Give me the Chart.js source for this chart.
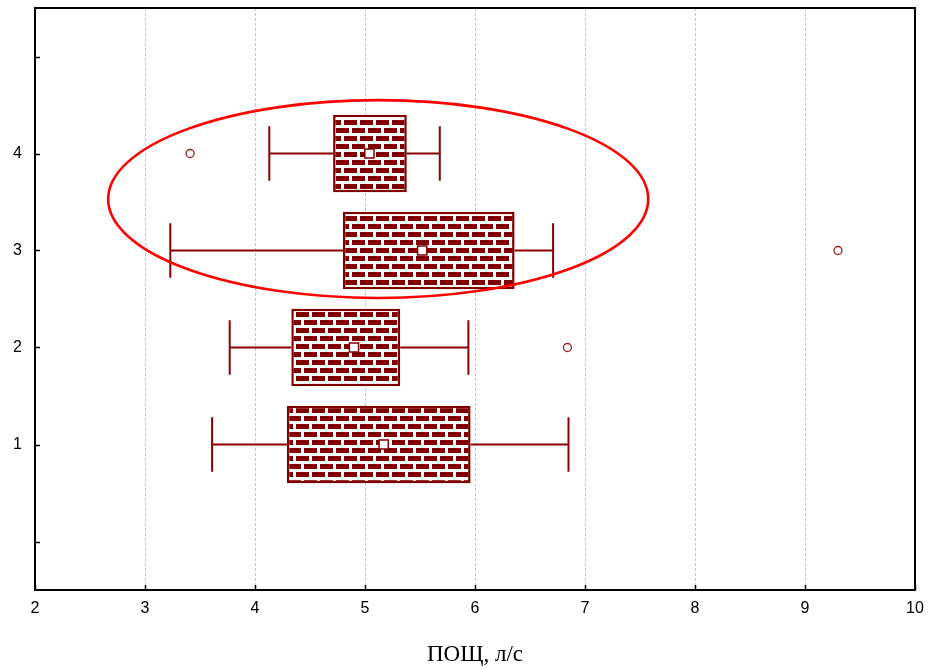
<!doctype html>
<html lang="ru">
  <head>
    <meta charset="utf-8">
    <title>ПОЩ, л/с</title>
    <style>
      * {
        margin: 0;
        padding: 0;
      }
      body {
        background: white;
      }
      .chartBox {
        width: 935px;
        height: 669px;
      }
    </style>
  </head>
  <body>
    <div class="chartBox">
      <canvas id="myChart" width="935" height="669"></canvas>
    </div>
    <script src="https://cdn.jsdelivr.net/npm/chart.js/dist/chart.umd.min.js"></script>
    <script>
    // box plot values per group
    const groups = [1, 2, 3, 4];
    const whiskerLow = [3.61, 3.77, 3.23, 4.13];
    const q1 = [4.29, 4.33, 4.80, 4.71];
    const median = [5.17, 4.90, 5.52, 5.04];
    const q3 = [5.96, 5.32, 6.36, 5.38];
    const whiskerHigh = [6.85, 5.94, 6.71, 5.68];
    const outlierX = [6.84, 9.30, 3.41];
    const outlierGroup = [2, 3, 4];

    // axis ticks
    const xTicks = [2, 3, 4, 5, 6, 7, 8, 9, 10];
    const yTicks = [0, 1, 2, 3, 4, 5];
    const yLabels = ['', '1', '2', '3', '4', ''];

    // highlighted region (centre and radii in axis units)
    const ringCenter = [5.12, 3.53];
    const ringRadius = [2.455, 1.02];

    const capHalf = 0.28;
    const darkRed = '#800000';

    // brick texture for the boxes
    function makeBricks() {
      const c = document.createElement('canvas');
      c.width = 16;
      c.height = 16;
      const g = c.getContext('2d');
      g.fillStyle = '#ffffff';
      g.fillRect(0, 0, 16, 16);
      g.fillStyle = darkRed;
      g.fillRect(0, 0, 13, 5);
      g.fillRect(-8, 8, 13, 5);
      g.fillRect(8, 8, 13, 5);
      return g.createPattern(c, 'repeat');
    }

    // whiskers behind the boxes, frame and inward ticks on top
    const boxExtras = {
      id: 'boxExtras',
      beforeDatasetsDraw(chart) {
        const { ctx, scales: { x, y } } = chart;
        ctx.save();
        ctx.strokeStyle = '#8b0000';
        ctx.lineWidth = 2;
        for (let i = 0; i < groups.length; i++) {
          const yc = y.getPixelForValue(groups[i]);
          const yt = y.getPixelForValue(groups[i] + capHalf);
          const yb = y.getPixelForValue(groups[i] - capHalf);
          const xl = x.getPixelForValue(whiskerLow[i]);
          const xh = x.getPixelForValue(whiskerHigh[i]);
          ctx.beginPath();
          ctx.moveTo(xl, yc);
          ctx.lineTo(x.getPixelForValue(q1[i]), yc);
          ctx.moveTo(x.getPixelForValue(q3[i]), yc);
          ctx.lineTo(xh, yc);
          ctx.moveTo(xl, yt);
          ctx.lineTo(xl, yb);
          ctx.moveTo(xh, yt);
          ctx.lineTo(xh, yb);
          ctx.stroke();
        }
        ctx.restore();
      },
      afterDatasetsDraw(chart) {
        const { ctx, scales: { x, y } } = chart;
        const cx = x.getPixelForValue(ringCenter[0]);
        const cy = y.getPixelForValue(ringCenter[1]);
        const rx = x.getPixelForValue(ringCenter[0] + ringRadius[0]) - cx;
        const ry = cy - y.getPixelForValue(ringCenter[1] + ringRadius[1]);
        ctx.save();
        ctx.strokeStyle = '#ff0000';
        ctx.lineWidth = 2.6;
        ctx.beginPath();
        ctx.ellipse(cx, cy, rx, ry, 0, 0, 2 * Math.PI);
        ctx.stroke();
        ctx.restore();
      },
      afterDraw(chart) {
        const { ctx, chartArea: { top, bottom, left, right }, scales: { x, y } } = chart;
        ctx.save();
        ctx.strokeStyle = '#000000';
        ctx.lineWidth = 1.5;
        ctx.beginPath();
        for (const v of xTicks) {
          const px = Math.round(x.getPixelForValue(v)) + 0.5;
          ctx.moveTo(px, bottom);
          ctx.lineTo(px, bottom - 5);
        }
        for (const v of yTicks) {
          const py = Math.round(y.getPixelForValue(v)) + 0.5;
          ctx.moveTo(left, py);
          ctx.lineTo(left + 5, py);
        }
        ctx.stroke();
        ctx.lineWidth = 2;
        ctx.strokeRect(left, top, right - left, bottom - top);
        ctx.restore();
      }
    };

    const data = {
      datasets: [{
        type: 'scatter',
        label: 'median',
        data: groups.map((g, i) => ({ x: median[i], y: g })),
        pointStyle: 'rect',
        pointRadius: 6.5,
        backgroundColor: '#ffffff',
        borderColor: darkRed,
        borderWidth: 1.5,
        order: 0
      }, {
        type: 'scatter',
        label: 'outliers',
        data: outlierGroup.map((g, i) => ({ x: outlierX[i], y: g })),
        pointStyle: 'circle',
        pointRadius: 4,
        backgroundColor: '#ffffff',
        borderColor: '#9b1f1f',
        borderWidth: 1.3,
        order: 0
      }, {
        type: 'bar',
        label: 'box',
        data: groups.map((g, i) => ({ x: [q1[i], q3[i]], y: g })),
        backgroundColor: makeBricks(),
        borderColor: darkRed,
        borderWidth: 2.5,
        borderSkipped: false,
        categoryPercentage: 1,
        barPercentage: 0.8,
        order: 1
      }]
    };

    const config = {
      type: 'bar',
      data,
      options: {
        indexAxis: 'y',
        responsive: false,
        animation: false,
        layout: {
          padding: { top: 5, right: 20, left: 0, bottom: 0 }
        },
        scales: {
          x: {
            type: 'linear',
            min: 2,
            max: 10,
            offset: false,
            afterBuildTicks: s => { s.ticks = xTicks.map(v => ({ value: v })); },
            afterFit: s => { s.height = 79; s.paddingLeft = 0; s.paddingRight = 0; },
            grid: {
              drawTicks: false,
              color: ctx => (ctx.tick && (ctx.tick.value === 2 || ctx.tick.value === 10)) ? 'rgba(0,0,0,0)' : '#c4c4c4',
              lineWidth: 1
            },
            border: { display: false, dash: [3, 2] },
            ticks: {
              padding: 9,
              color: '#000000',
              font: { family: 'Liberation Sans', size: 16 }
            },
            title: {
              display: true,
              text: 'ПОЩ, л/с',
              color: '#000000',
              padding: { top: 0, bottom: 0 },
              font: { family: 'Liberation Serif', size: 23 }
            }
          },
          y: {
            type: 'linear',
            min: -0.5,
            max: 5.5,
            offset: false,
            afterBuildTicks: s => { s.ticks = yTicks.map(v => ({ value: v })); },
            afterFit: s => { s.width = 35; s.paddingTop = 0; s.paddingBottom = 0; },
            grid: { display: false, drawTicks: false },
            border: { display: false },
            ticks: {
              padding: 13,
              color: '#000000',
              font: { family: 'Liberation Sans', size: 16 },
              callback: (v, i) => yLabels[yTicks.indexOf(v)] ?? ''
            }
          }
        },
        plugins: {
          legend: { display: false },
          tooltip: { enabled: false }
        }
      },
      plugins: [boxExtras]
    };

    const myChart = new Chart(document.getElementById('myChart'), config);
    </script>
  </body>
</html>
